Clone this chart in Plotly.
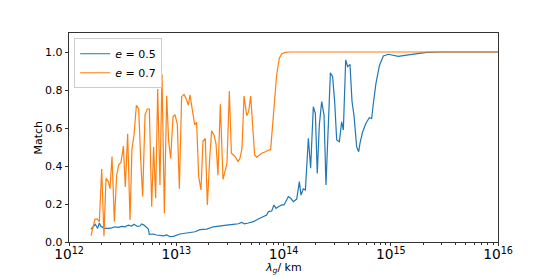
import numpy as np
import plotly.graph_objects as go

# log10(lambda_g / km) and match values
orange_logx = [12.205, 12.242, 12.264, 12.283, 12.305, 12.326, 12.345, 12.367, 12.382, 12.401,
               12.423, 12.444, 12.463, 12.485, 12.507, 12.525, 12.547, 12.569, 12.587, 12.606,
               12.628, 12.650, 12.668, 12.687, 12.709, 12.730, 12.749, 12.771, 12.789, 12.808,
               12.827, 12.848, 12.867, 12.889, 12.911, 12.929, 12.948, 12.970, 12.988, 13.010,
               13.029, 13.050, 13.072, 13.091, 13.113, 13.128, 13.150, 13.172, 13.190, 13.209,
               13.231, 13.249, 13.271, 13.290, 13.312, 13.330, 13.352, 13.371, 13.389, 13.411,
               13.436, 13.458, 13.473, 13.495, 13.514, 13.535, 13.554, 13.576, 13.594, 13.613,
               13.632, 13.657, 13.675, 13.694, 13.713, 13.731, 13.750, 13.775, 13.796, 13.821,
               13.843, 13.862, 13.880, 13.899, 13.918, 13.936, 13.961, 13.983, 14.014, 14.061,
               14.5, 15.0, 15.5, 16.0]
orange_y = [0.033, 0.12, 0.12, 0.107, 0.384, 0.03, 0.335, 0.318, 0.28, 0.45,
            0.107, 0.35, 0.405, 0.42, 0.505, 0.29, 0.57, 0.116, 0.49, 0.56,
            0.72, 0.70, 0.44, 0.24, 0.67, 0.70, 0.70, 0.186, 0.50, 0.23,
            0.805, 0.30, 0.882, 0.15, 0.77, 0.53, 0.44, 0.66, 0.67, 0.62,
            0.28, 0.765, 0.777, 0.756, 0.72, 0.775, 0.695, 0.616, 0.63, 0.344,
            0.274, 0.53, 0.545, 0.195, 0.44, 0.585, 0.563, 0.516, 0.352, 0.725,
            0.33, 0.39, 0.414, 0.795, 0.467, 0.458, 0.446, 0.423, 0.44, 0.493,
            0.768, 0.665, 0.686, 0.768, 0.633, 0.458, 0.446, 0.458, 0.467, 0.472,
            0.479, 0.484, 0.486, 0.616, 0.79, 0.879, 0.967, 0.99, 0.998, 1.0,
            1.0, 1.0, 1.0, 1.0]

blue_logx = [12.205, 12.227, 12.246, 12.258, 12.267, 12.283, 12.295, 12.314, 12.336, 12.367,
             12.398, 12.429, 12.460, 12.491, 12.522, 12.553, 12.584, 12.606, 12.637, 12.662,
             12.678, 12.699, 12.718, 12.740, 12.749, 12.786, 12.817, 12.848, 12.880, 12.911,
             12.942, 12.973, 13.004, 13.035, 13.082, 13.128, 13.175, 13.221, 13.284, 13.346,
             13.408, 13.470, 13.532, 13.579, 13.610, 13.635, 13.672, 13.719, 13.765, 13.812,
             13.843, 13.859, 13.890, 13.911, 13.930, 13.952, 13.983, 14.005, 14.023, 14.045,
             14.067, 14.092, 14.123, 14.148, 14.163, 14.185, 14.204, 14.232, 14.253, 14.278,
             14.297, 14.315, 14.334, 14.356, 14.378, 14.396, 14.418, 14.437, 14.458, 14.477,
             14.496, 14.521, 14.542, 14.558, 14.580, 14.598, 14.620, 14.639, 14.657, 14.682,
             14.701, 14.713, 14.738, 14.769, 14.800, 14.822, 14.838, 14.862, 14.894, 14.931,
             14.977, 15.024, 15.071, 15.148, 15.242, 15.335, 15.459, 16.0]
blue_y = [0.068, 0.08, 0.093, 0.08, 0.072, 0.10, 0.084, 0.077, 0.072, 0.072,
          0.074, 0.08, 0.077, 0.082, 0.080, 0.089, 0.084, 0.093, 0.082, 0.084,
          0.095, 0.089, 0.08, 0.068, 0.04, 0.042, 0.037, 0.035, 0.032, 0.037,
          0.028, 0.030, 0.037, 0.042, 0.046, 0.05, 0.054, 0.065, 0.068, 0.08,
          0.086, 0.089, 0.093, 0.096, 0.1035, 0.096, 0.1, 0.107, 0.121, 0.133,
          0.142, 0.16, 0.163, 0.195, 0.177, 0.186, 0.195, 0.195, 0.212, 0.239,
          0.23, 0.212, 0.226, 0.318, 0.247, 0.28, 0.274, 0.546, 0.388, 0.712,
          0.677, 0.361, 0.616, 0.739, 0.668, 0.30, 0.616, 0.891, 0.87, 0.739,
          0.537, 0.528, 0.633, 0.589, 0.958, 0.923, 0.935, 0.739, 0.668, 0.502,
          0.475, 0.519, 0.58, 0.625, 0.654, 0.65, 0.73, 0.835, 0.928, 0.979,
          0.988, 0.982, 0.977, 0.984, 0.993, 0.998, 1.0, 1.0]

series_names = ["<i>e</i> = 0.5", "<i>e</i> = 0.7"]
y_ticks = [0.0, 0.2, 0.4, 0.6, 0.8, 1.0]
x_title = "<i>λ</i><sub><i>g</i></sub>/ km"
y_title = "Match"

blue_x = 10 ** np.array(blue_logx)
orange_x = 10 ** np.array(orange_logx)

fig = go.Figure()
fig.add_trace(go.Scatter(x=blue_x, y=blue_y, mode="lines", name=series_names[0],
                         line=dict(color="#1f77b4", width=1.2)))
fig.add_trace(go.Scatter(x=orange_x, y=orange_y, mode="lines", name=series_names[1],
                         line=dict(color="#ff7f0e", width=1.2)))

axis_common = dict(showgrid=False, zeroline=False, showline=True, linecolor="#333",
                   linewidth=0.8, mirror=True, ticks="outside", ticklen=3.5,
                   tickcolor="#333", tickfont=dict(size=11, color="black"),
                   automargin=False)

fig.update_xaxes(type="log", range=[12, 16], exponentformat="power", dtick=1,
                 ticklabelstandoff=-3,
                 minor=dict(ticks="outside", ticklen=2, tickcolor="#333", showgrid=False),
                 **axis_common)
fig.update_yaxes(range=[0, 1.1], tickvals=y_ticks, tickformat=".1f", **axis_common)

fig.add_annotation(text=x_title, xref="paper", yref="paper", x=0.5, y=0,
                   xanchor="center", yanchor="middle", yshift=-26, showarrow=False,
                   font=dict(size=11, color="black"))
fig.add_annotation(text=y_title, xref="paper", yref="paper", x=0, y=0.5,
                   xanchor="center", yanchor="middle", xshift=-31, textangle=-90,
                   showarrow=False, font=dict(size=11, color="black"))

fig.update_layout(
    width=546, height=269,
    margin=dict(l=61, r=56, t=25, b=35),
    paper_bgcolor="white", plot_bgcolor="white",
    font=dict(family="DejaVu Sans", size=11, color="black"),
    showlegend=True,
    legend=dict(x=0.012, y=0.975, xanchor="left", yanchor="top",
                bordercolor="#cccccc", borderwidth=1, bgcolor="rgba(255,255,255,0.8)",
                font=dict(size=11), tracegroupgap=0),
)

fig.write_html("out.html")
